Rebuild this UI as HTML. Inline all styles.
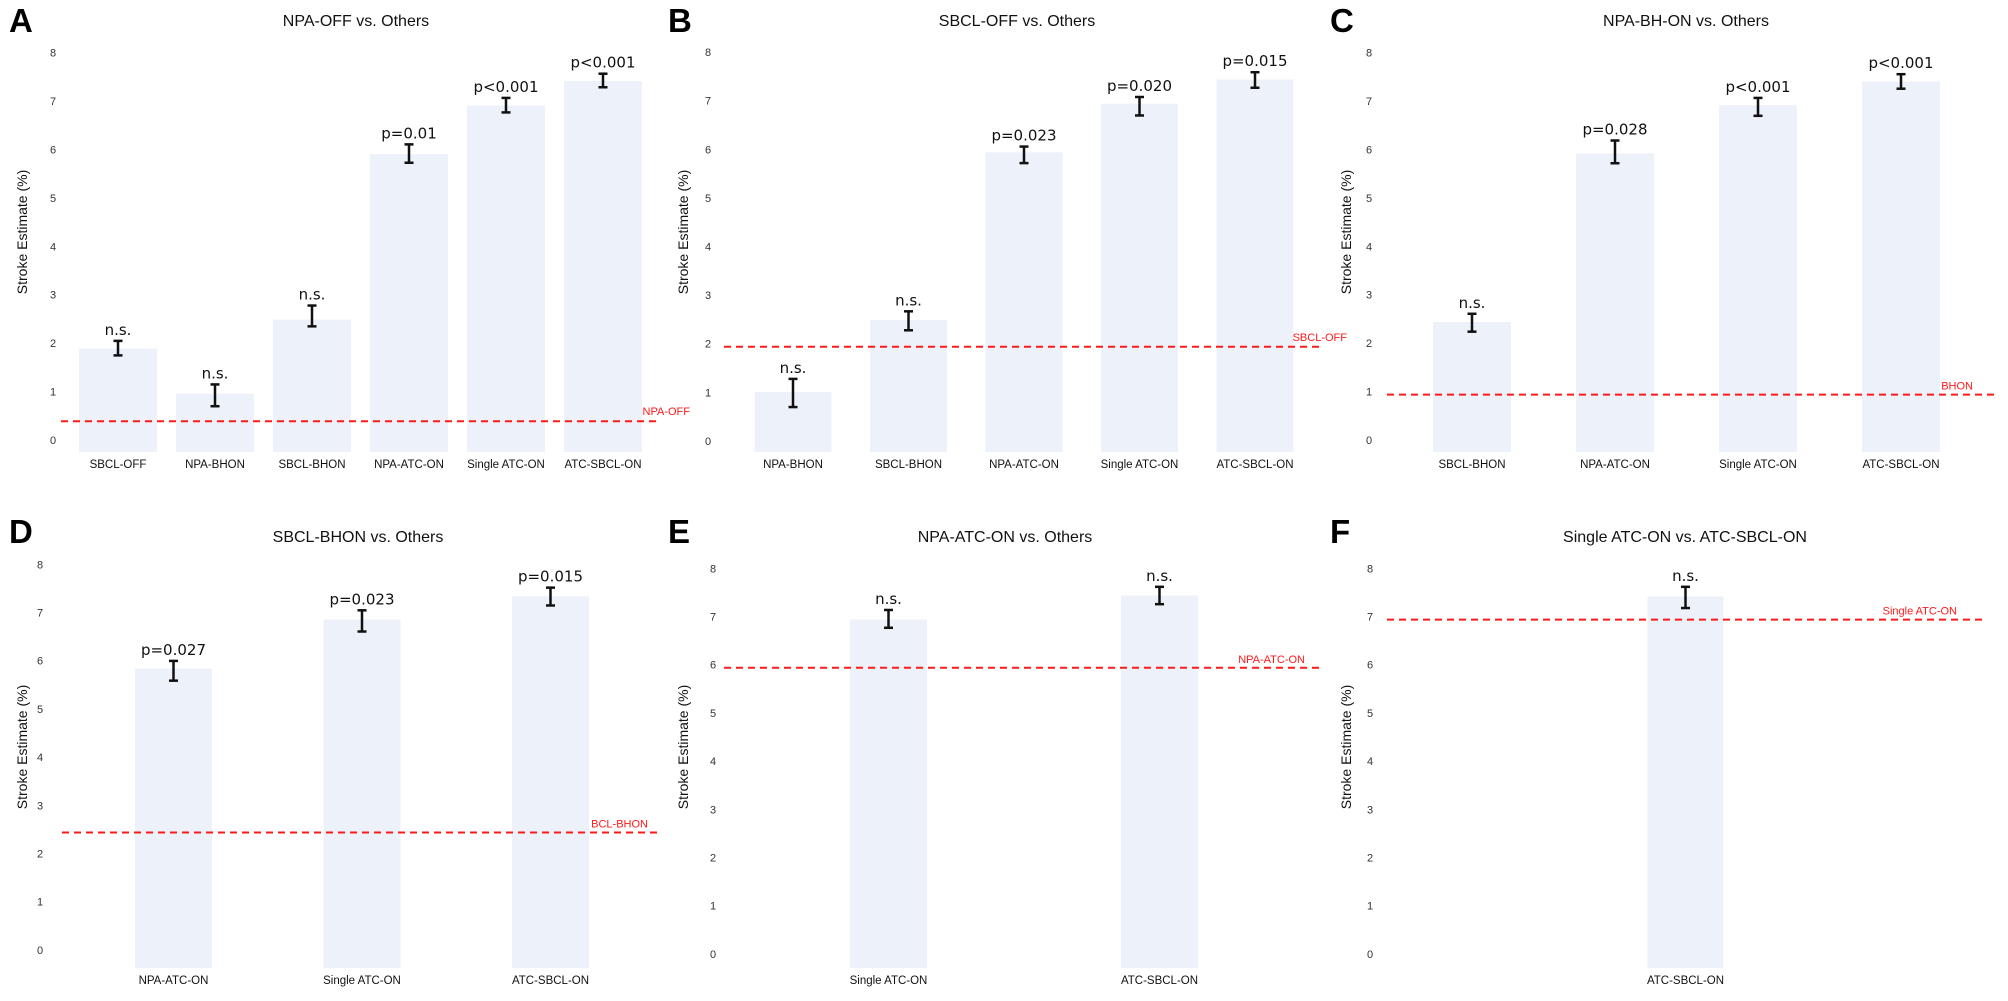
<!DOCTYPE html>
<html><head><meta charset="utf-8">
<style>
html,body{margin:0;padding:0;background:#fff;overflow:hidden;}
svg{display:block;font-family:"Liberation Sans",sans-serif;}
</style></head>
<body>
<svg id="fig" width="2008" height="1001" viewBox="0 0 2008 1001" xmlns="http://www.w3.org/2000/svg"></svg>
<script>
// ---- data ----
const catsA = ["SBCL-OFF","NPA-BHON","SBCL-BHON","NPA-ATC-ON","Single ATC-ON","ATC-SBCL-ON"];
const valsA = [1.95,1.02,2.55,5.97,6.97,7.48];
const hiA = [2.11,1.21,2.84,6.17,7.13,7.63];
const loA = [1.81,0.76,2.41,5.79,6.83,7.35];
const pA = ["n.s.","n.s.","n.s.","p=0.01","p<0.001","p<0.001"];
const refA = 0.45;

const catsB = ["NPA-BHON","SBCL-BHON","NPA-ATC-ON","Single ATC-ON","ATC-SBCL-ON"];
const valsB = [1.07,2.55,6.0,7.0,7.5];
const hiB = [1.34,2.73,6.12,7.14,7.65];
const loB = [0.76,2.34,5.78,6.76,7.33];
const pB = ["n.s.","n.s.","p=0.023","p=0.020","p=0.015"];
const refB = 2.0;

const catsC = ["SBCL-BHON","NPA-ATC-ON","Single ATC-ON","ATC-SBCL-ON"];
const valsC = [2.5,5.98,6.98,7.47];
const hiC = [2.67,6.25,7.13,7.62];
const loC = [2.3,5.78,6.76,7.32];
const pC = ["n.s.","p=0.028","p<0.001","p<0.001"];
const refC = 1.0;

const catsD = ["NPA-ATC-ON","Single ATC-ON","ATC-SBCL-ON"];
const valsD = [5.9,6.92,7.4];
const hiD = [6.06,7.11,7.58];
const loD = [5.65,6.67,7.21];
const pD = ["p=0.027","p=0.023","p=0.015"];
const refD = 2.5;

const catsE = ["Single ATC-ON","ATC-SBCL-ON"];
const valsE = [7.0,7.5];
const hiE = [7.2,7.68];
const loE = [6.83,7.32];
const pE = ["n.s.","n.s."];
const refE = 6.0;

const catsF = ["ATC-SBCL-ON"];
const valsF = [7.48];
const hiF = [7.68];
const loF = [7.24];
const pF = ["n.s."];
const refF = 7.0;

const yTicks = [0,1,2,3,4,5,6,7,8];

// ---- layout (not data) ----
const panels = [
 {id:"a",letter:"A",title:"NPA-OFF vs. Others",cats:catsA,vals:valsA,hi:hiA,lo:loA,p:pA,ref:refA,refLabel:"NPA-OFF",
  lx:9,ly:32,titleX:356,titleY:26,yTitleX:22,yTitleY:232,tickX:53,y0:443,unit:48.4,barBottom:452,start:118,step:97,bw:78,catY:468,
  lineX1:61,lineX2:660,refLabelX:690,refLabelDy:-6},
 {id:"b",letter:"B",title:"SBCL-OFF vs. Others",cats:catsB,vals:valsB,hi:hiB,lo:loB,p:pB,ref:refB,refLabel:"SBCL-OFF",
  lx:668,ly:32,titleX:1017,titleY:26,yTitleX:683,yTitleY:232,tickX:708,y0:444,unit:48.6,barBottom:452,start:793,step:115.5,bw:77,catY:468,
  lineX1:724,lineX2:1323,refLabelX:1347,refLabelDy:-6},
 {id:"c",letter:"C",title:"NPA-BH-ON vs. Others",cats:catsC,vals:valsC,hi:hiC,lo:loC,p:pC,ref:refC,refLabel:"BHON",
  lx:1330,ly:32,titleX:1686,titleY:26,yTitleX:1346,yTitleY:232,tickX:1369,y0:443,unit:48.4,barBottom:452,start:1472,step:143,bw:78,catY:468,
  lineX1:1387,lineX2:1996,refLabelX:1973,refLabelDy:-5},
 {id:"d",letter:"D",title:"SBCL-BHON vs. Others",cats:catsD,vals:valsD,hi:hiD,lo:loD,p:pD,ref:refD,refLabel:"BCL-BHON",
  lx:9,ly:543,titleX:358,titleY:542,yTitleX:22,yTitleY:747,tickX:40,y0:953,unit:48.2,barBottom:968,start:173.5,step:188.5,bw:77,catY:984,
  lineX1:62,lineX2:660,refLabelX:648,refLabelDy:-5},
 {id:"e",letter:"E",title:"NPA-ATC-ON vs. Others",cats:catsE,vals:valsE,hi:hiE,lo:loE,p:pE,ref:refE,refLabel:"NPA-ATC-ON",
  lx:668,ly:543,titleX:1005,titleY:542,yTitleX:683,yTitleY:747,tickX:713,y0:957,unit:48.2,barBottom:968,start:888.5,step:271,bw:77,catY:984,
  lineX1:724,lineX2:1323,refLabelX:1305,refLabelDy:-5},
 {id:"f",letter:"F",title:"Single ATC-ON vs. ATC-SBCL-ON",cats:catsF,vals:valsF,hi:hiF,lo:loF,p:pF,ref:refF,refLabel:"Single ATC-ON",
  lx:1330,ly:543,titleX:1685,titleY:542,yTitleX:1346,yTitleY:747,tickX:1370,y0:957,unit:48.2,barBottom:968,start:1685.5,step:0,bw:76,catY:984,
  lineX1:1387,lineX2:1985,refLabelX:1957,refLabelDy:-5}
];

const NS = "http://www.w3.org/2000/svg";
const svg = document.getElementById("fig");
function mk(tag, attrs, parent, text){
  const el = document.createElementNS(NS, tag);
  for (const k in attrs) el.setAttribute(k, attrs[k]);
  if (text !== undefined) el.textContent = text;
  parent.appendChild(el);
  return el;
}

panels.forEach(P => {
  const yS = v => P.y0 - v * P.unit;
  const xS = i => P.start + i * P.step;
  const g = mk("g", {}, svg);
  
  

  const letter = mk("text", {x:P.lx, y:P.ly, "font-size":33, "font-weight":"bold", fill:"#000"}, g, P.letter);
  
  

  const title = mk("text", {x:P.titleX, y:P.titleY, "font-size":16, "text-anchor":"middle", fill:"#111"}, g, P.title);
  
  

  const yt = mk("text", {x:P.yTitleX, y:P.yTitleY, "font-size":14, "text-anchor":"middle", fill:"#111",
    transform:"rotate(-90 "+P.yTitleX+" "+P.yTitleY+")", dy:"0.35em"}, g, "Stroke Estimate  (%)");
  
  

  yTicks.forEach(t => {
    const tl = mk("text", {x:P.tickX, y:yS(t)-3, "font-size":11, "text-anchor":"middle", fill:"#333", dy:"0.35em"}, g, String(t));
    
    
  });

  P.vals.forEach((v, i) => {
    const cx = xS(i);
    const bar = mk("rect", {x:cx - P.bw/2, y:yS(v), width:P.bw, height:P.barBottom - yS(v), fill:"#edf1fa"}, g);
    
    
  });

  const ref = mk("line", {x1:P.lineX1, x2:P.lineX2, y1:yS(P.ref), y2:yS(P.ref), stroke:"#ff1a1a", "stroke-width":2, "stroke-dasharray":"7,5"}, g);
  
  
  const rl = mk("text", {x:P.refLabelX, y:yS(P.ref)+P.refLabelDy, "font-size":11, "text-anchor":"end", fill:"#ff1a1a"}, g, P.refLabel);
  
  

  P.vals.forEach((v, i) => {
    const cx = xS(i);
    const eg = mk("g", {stroke:"#111", "stroke-width":2.5}, g);
    
    
    mk("line", {x1:cx, x2:cx, y1:yS(P.hi[i]), y2:yS(P.lo[i])}, eg);
    mk("line", {x1:cx-4.5, x2:cx+4.5, y1:yS(P.hi[i]), y2:yS(P.hi[i])}, eg);
    mk("line", {x1:cx-4.5, x2:cx+4.5, y1:yS(P.lo[i]), y2:yS(P.lo[i])}, eg);

    const pt = mk("text", {x:cx, y:yS(P.hi[i]) - 6, "font-size":15, "text-anchor":"middle", fill:"#111",
      "font-family":"DejaVu Sans, sans-serif"}, g, P.p[i]);
    
    

    const cl = mk("text", {x:cx, y:P.catY, "font-size":11.5, "text-anchor":"middle", fill:"#111"}, g, P.cats[i]);
    
    
  });
});
</script>
</body></html>
